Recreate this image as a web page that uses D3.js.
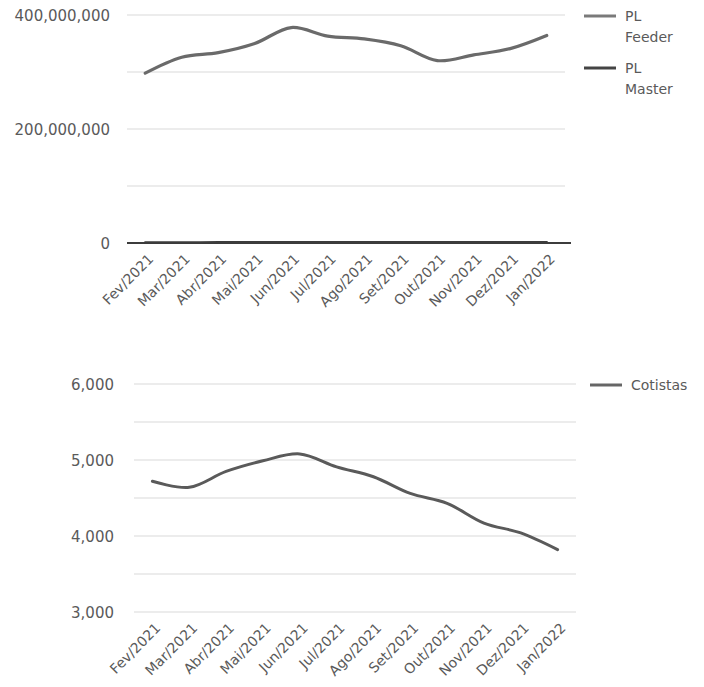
<!DOCTYPE html>
<html>
<head>
<meta charset="utf-8">
<script src="https://cdn.jsdelivr.net/npm/d3@7"></script>
<style>
  html, body { margin: 0; padding: 0; background: #ffffff; }
  svg text { font-family: "DejaVu Sans", Verdana, sans-serif; fill: #5a5a5a; }
</style>
</head>
<body>
<svg id="chart" width="704" height="687"></svg>
<script>
const months = ["Fev/2021","Mar/2021","Abr/2021","Mai/2021","Jun/2021","Jul/2021",
                "Ago/2021","Set/2021","Out/2021","Nov/2021","Dez/2021","Jan/2022"];
const plFeeder = [298e6, 326e6, 334e6, 350e6, 378e6, 363e6, 358e6, 346e6, 320e6, 330e6, 341e6, 364e6];
const plMaster = [1.0e6, 1.0e6, 1.1e6, 1.1e6, 1.2e6, 1.2e6, 1.2e6, 1.2e6, 1.2e6, 1.3e6, 1.3e6, 1.4e6];
const cotistas = [4720, 4640, 4850, 4990, 5080, 4910, 4780, 4560, 4430, 4170, 4040, 3820];
const topTicks = [0, 100e6, 200e6, 300e6, 400e6];
const topLabels = [0, 200e6, 400e6];
const botTicks = [3000, 3500, 4000, 4500, 5000, 5500, 6000];
const botLabels = [3000, 4000, 5000, 6000];

const svg = d3.select("#chart");
const fmt = d3.format(",");

function drawChart(cfg) {
  const g = svg.append("g");
  const x = d3.scaleBand().domain(months).range([cfg.x0, cfg.x1]);
  const y = d3.scaleLinear().domain(cfg.domain).range([cfg.yBottom, cfg.yTop]);
  const cx = m => x(m) + x.bandwidth() / 2;

  // gridlines
  g.selectAll(".grid").data(cfg.ticks).enter().append("line")
    .attr("x1", cfg.x0).attr("x2", cfg.x1)
    .attr("y1", d => y(d)).attr("y2", d => y(d))
    .attr("stroke", "#d9d9d9").attr("stroke-width", 1);

  // y axis labels
  const yAxis = d3.axisLeft(y).tickValues(cfg.labels).tickSize(0).tickPadding(0).tickFormat(fmt);
  const ya = g.append("g").attr("transform", `translate(${cfg.labelX},0)`).call(yAxis);
  ya.select(".domain").remove();
  ya.selectAll("text").attr("font-size", 15).attr("dy", "0.35em")
    .style("font-family", '"DejaVu Sans", Verdana, sans-serif').attr("fill", "#5a5a5a");

  // x axis labels
  const xAxis = d3.axisBottom(x).tickSize(0).tickPadding(0);
  const xa = g.append("g").attr("transform", `translate(0,${cfg.yBottom})`).call(xAxis);
  xa.select(".domain").remove();
  xa.selectAll("text")
    .attr("font-size", 14)
    .style("font-family", '"DejaVu Sans", Verdana, sans-serif')
    .attr("fill", "#5a5a5a")
    .attr("text-anchor", "end")
    .attr("dy", 0)
    .attr("y", 0)
    .attr("transform", "translate(9,17) rotate(-45)");

  // series
  const line = d3.line()
    .x((d, i) => cx(months[i]))
    .y(d => y(d))
    .curve(d3.curveCatmullRom.alpha(0.5));
  if (cfg.baseline) {
    g.append("line")
      .attr("x1", cfg.x0).attr("x2", cfg.x1 + 6)
      .attr("y1", y(0)).attr("y2", y(0))
      .attr("stroke", "#3c3c3c").attr("stroke-width", 2);
  }
  cfg.series.forEach(s => {
    g.append("path").datum(s.values)
      .attr("fill", "none")
      .attr("stroke", s.color)
      .attr("stroke-width", s.width)
      .attr("stroke-linecap", "round")
      .attr("d", line);
  });

  // legend
  cfg.legend.forEach(l => {
    g.append("line").attr("x1", l.x).attr("x2", l.x + 32)
      .attr("y1", l.y).attr("y2", l.y)
      .attr("stroke", l.color).attr("stroke-width", 3);
    const t = g.append("text").attr("x", l.x + 41).attr("y", l.y + 5)
      .attr("font-size", 14).attr("fill", "#5a5a5a");
    l.lines.forEach((txt, k) => {
      t.append("tspan").attr("x", l.x + 41).attr("dy", k === 0 ? 0 : 21).text(txt);
    });
  });
}

drawChart({
  x0: 127, x1: 565, yTop: 15, yBottom: 243,
  domain: [0, 400e6], ticks: topTicks, labels: topLabels, labelX: 110,
  baseline: true,
  series: [
    { values: plFeeder, color: "#6a6a6a", width: 3.2 },
    { values: plMaster, color: "#3c3c3c", width: 2.5 }
  ],
  legend: [
    { x: 584, y: 16, color: "#7a7a7a", lines: ["PL", "Feeder"] },
    { x: 584, y: 68, color: "#444444", lines: ["PL", "Master"] }
  ]
});

drawChart({
  x0: 134, x1: 576, yTop: 384, yBottom: 612,
  domain: [3000, 6000], ticks: botTicks, labels: botLabels, labelX: 114,
  baseline: false,
  series: [
    { values: cotistas, color: "#5a5a5a", width: 3 }
  ],
  legend: [
    { x: 590, y: 385, color: "#666666", lines: ["Cotistas"] }
  ]
});
</script>
</body>
</html>
